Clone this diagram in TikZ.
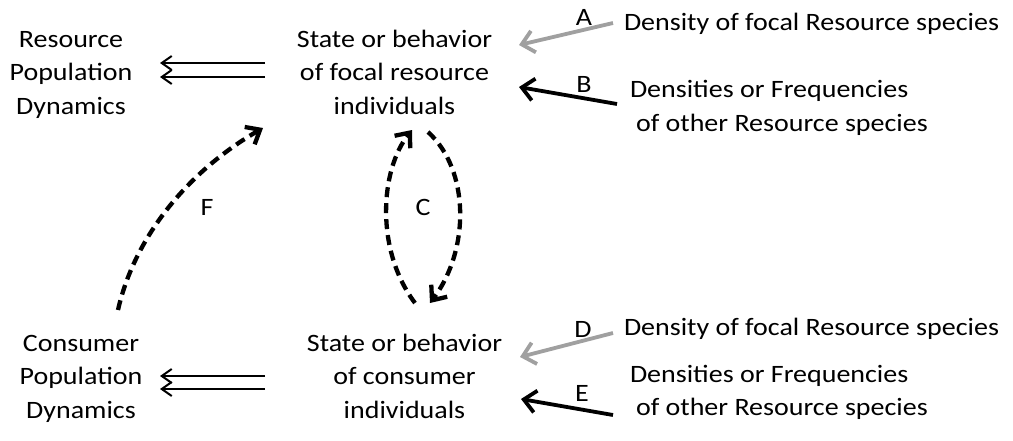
\documentclass[tikz,border=0pt]{standalone}
\usepackage{fontspec}
\setmainfont{Carlito}[FakeStretch=1.12]
\usetikzlibrary{arrows.meta}
\definecolor{arrowgray}{RGB}{160,160,160}
\newcommand\mylines[2]{\begin{tabular}[t]{@{}#1@{}}#2\end{tabular}}
\tikzset{
  txt/.style={inner sep=0pt, outer sep=0pt, font=\fontsize{25}{33.5}\selectfont},
  lbl/.style={inner sep=0pt, outer sep=0pt, anchor=base, font=\fontsize{25}{30}\selectfont},
  inarrow/.style={line width=3.8pt, -{Straight Barb[length=12pt,width=22pt]}},
  grayarrow/.style={inarrow, draw=arrowgray},
  blackarrow/.style={inarrow, draw=black},
  dynarrow/.style={line width=2pt, -{Straight Barb[length=10pt,width=14pt]}},
  feedback/.style={line width=4.3pt, dash pattern=on 10pt off 6pt, -{Straight Barb[length=12pt,width=20pt]}}
}
\begin{document}
\begin{tikzpicture}[x=1pt,y=-1pt]
\useasboundingbox (0,0) rectangle (1013,440);
% text nodes
\node[txt, anchor=base] (resPop) at (71,47) {\mylines{c}{Resource\\Population\\Dynamics}};
\node[txt, anchor=base] (resState) at (394.5,47) {\mylines{c}{State or behavior\\of focal resource\\individuals}};
\node[txt, anchor=base] (conPop) at (81,351) {\mylines{c}{Consumer\\Population\\Dynamics}};
\node[txt, anchor=base] (conState) at (404.5,351) {\mylines{c}{State or behavior\\of consumer\\individuals}};
\node[txt, anchor=base west] (densA) at (624,30) {Density of focal Resource species};
\node[txt, anchor=base west] (densB) at (630,97.5) {\mylines{l}{Densities or Frequencies\\\hspace{6pt}of other Resource species}};
\node[txt, anchor=base west] (densD) at (624,335) {Density of focal Resource species};
\node[txt, anchor=base west] (densE) at (630,382) {\mylines{l}{Densities or Frequencies\\\hspace{6pt}of other Resource species}};
% labels
\node[lbl] (labA) at (584,25) {A};
\node[lbl] (labB) at (584,92) {B};
\node[lbl] (labC) at (423,215) {C};
\node[lbl] (labD) at (583,337) {D};
\node[lbl] (labE) at (582,401) {E};
\node[lbl] (labF) at (207,215) {F};
% connector end points
\coordinate (aS) at (613,23);  \coordinate (aT) at (519,45);
\coordinate (bS) at (617,104); \coordinate (bT) at (519,87);
\coordinate (dS) at (613,333); \coordinate (dT) at (520,357);
\coordinate (eS) at (613,415); \coordinate (eT) at (521,399);
\coordinate (r1S) at (265,63);  \coordinate (r1T) at (160,63);
\coordinate (r2S) at (265,77);  \coordinate (r2T) at (160,77);
\coordinate (c1S) at (265,376); \coordinate (c1T) at (160,376);
\coordinate (c2S) at (265,389); \coordinate (c2T) at (160,389);
\coordinate (cUpS) at (415,303); \coordinate (cUpT) at (412,130);
\coordinate (cDnS) at (428,132); \coordinate (cDnT) at (430,303);
\coordinate (fS) at (118,310); \coordinate (fT) at (263,128);
% input arrows
\draw[grayarrow] (aS) -- (aT);
\draw[blackarrow] (bS) -- (bT);
\draw[grayarrow] (dS) -- (dT);
\draw[blackarrow] (eS) -- (eT);
% population dynamics arrows
\draw[dynarrow] (r1S) -- (r1T);
\draw[dynarrow] (r2S) -- (r2T);
\draw[dynarrow] (c1S) -- (c1T);
\draw[dynarrow] (c2S) -- (c2T);
% feedback arrows
\draw[feedback] (cUpS) .. controls (375,250) and (380,170) .. (cUpT);
\draw[feedback] (cDnS) .. controls (470,170) and (470,250) .. (cDnT);
\draw[feedback] (fS) .. controls (135,235) and (190,170) .. (fT);
\end{tikzpicture}
\end{document}
